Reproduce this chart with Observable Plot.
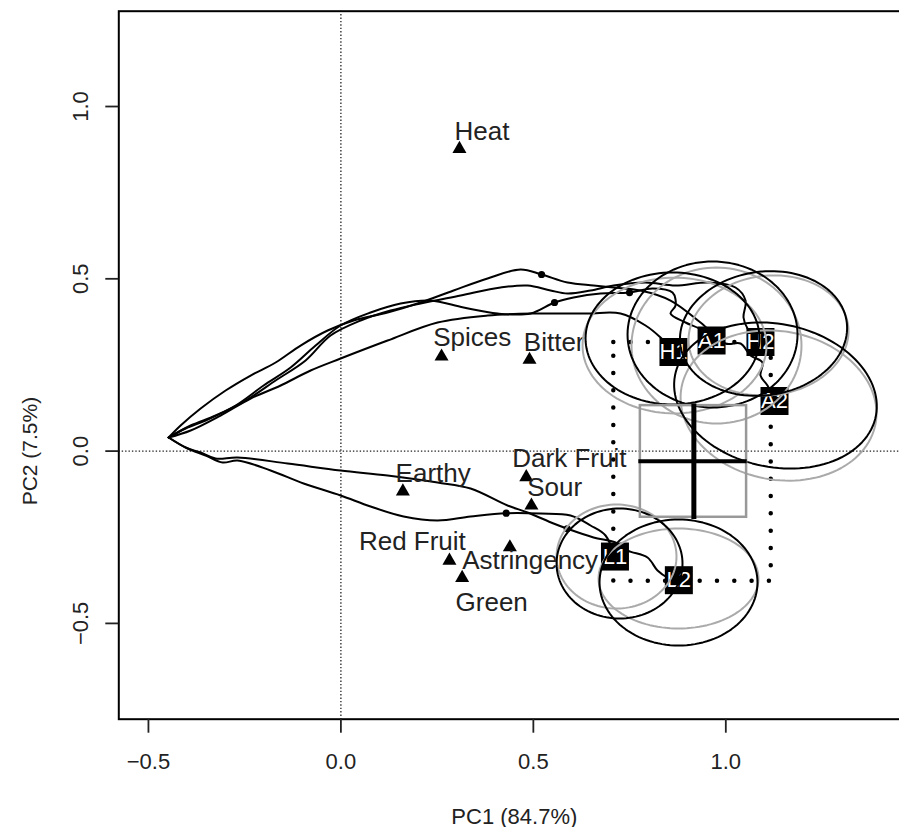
<!DOCTYPE html>
<html><head><meta charset="utf-8">
<script src="https://cdn.jsdelivr.net/npm/d3@7"></script>
<script src="https://cdn.jsdelivr.net/npm/@observablehq/plot@0.6"></script>
<style>html,body{margin:0;padding:0;background:#fff;overflow:hidden} svg{display:block}</style>
</head><body><div id="chart"></div>
<script>
// ---- axis ticks ----
const xTicks = [-0.5, 0, 0.5, 1.0];
const yTicks = [-0.5, 0, 0.5, 1.0];
const xTitle = "PC1 (84.7%)";
const yTitle = "PC2 (7.5%)";

// ---- attribute loadings (triangles) ----
const attributes   = ["Heat","Spices","Bitter","Earthy","Dark Fruit","Sour","Red Fruit","Astringency","Green"];
const attrPC1      = [0.308, 0.2615, 0.490, 0.161, 0.4816, 0.495, 0.282, 0.439, 0.315];
const attrPC2      = [0.877, 0.2745, 0.265, -0.117, -0.0757, -0.158, -0.318, -0.279, -0.368];
const attrLabelPC1 = [0.2953, 0.240, 0.4753, 0.1421, 0.4452, 0.4842, 0.0468, 0.3153, 0.2979];
const attrLabelPC2 = [0.9034, 0.3064, 0.2919, -0.0902, -0.0467, -0.1317, -0.2884, -0.3407, -0.4626];

// ---- samples (boxed labels) ----
const samples   = ["H1","A1","H2","A2","L1","L2"];
const samplePC1 = [0.864, 0.963, 1.090, 1.1265, 0.712, 0.878];
const samplePC2 = [0.2876, 0.321, 0.3166, 0.1454, -0.306, -0.3746];

// ---- trajectories from common origin to each sample ----
const trajA2 = [[-0.4475,0.0395],[-0.4164,0.0743],[-0.3644,0.1236],[-0.2995,0.1759],[-0.2345,0.2194],[-0.1696,0.2571],[-0.1047,0.3064],[-0.0345,0.35],[0.033,0.379],[0.1213,0.4022],[0.207,0.4312],[0.2927,0.4661],[0.381,0.5008],[0.4668,0.527],[0.5213,0.5125],[0.5888,0.4893],[0.6564,0.4806],[0.7083,0.4748],[0.7784,0.4661],[0.8564,0.437],[0.9343,0.3732],[0.9992,0.3122],[1.0382,0.3122],[1.0642,0.2774],[1.0953,0.2571],[1.0901,0.2194],[1.1083,0.1904],[1.1265,0.1468]];
const trajA1 = [[-0.4475,0.0395],[-0.4034,0.0656],[-0.3514,0.0888],[-0.2735,0.1323],[-0.2008,0.1904],[-0.1306,0.2426],[-0.0657,0.3064],[-0.0008,0.3645],[0.0771,0.4022],[0.1551,0.4283],[0.233,0.437],[0.3187,0.4167],[0.407,0.3993],[0.4927,0.3993],[0.5551,0.4312],[0.6044,0.4457],[0.6745,0.4573],[0.7499,0.4602],[0.8096,0.4719],[0.8616,0.4602],[0.8694,0.4225],[0.8564,0.3993],[0.8953,0.3732],[0.9395,0.35],[0.9629,0.3209]];
const trajH2 = [[-0.4475,0.0395],[-0.3904,0.0743],[-0.3255,0.1033],[-0.2475,0.1468],[-0.1696,0.2049],[-0.0917,0.2629],[-0.0268,0.3355],[0.0512,0.379],[0.1291,0.408],[0.207,0.4283],[0.3109,0.4515],[0.4148,0.4748],[0.4849,0.4806],[0.5447,0.4661],[0.5888,0.4573],[0.6486,0.4661],[0.7083,0.4806],[0.7914,0.4893],[0.8694,0.4806],[0.9551,0.4893],[1.0252,0.4748],[1.0512,0.437],[1.046,0.3877],[1.0564,0.3558],[1.0901,0.318]];
const trajH1 = [[-0.4475,0.0395],[-0.3904,0.0598],[-0.3125,0.1033],[-0.2345,0.1526],[-0.1566,0.1904],[-0.0787,0.2339],[-0.0008,0.2687],[0.1213,0.3209],[0.2512,0.3732],[0.381,0.3935],[0.5109,0.3993],[0.6408,0.3993],[0.7265,0.3993],[0.7914,0.3645],[0.8304,0.3297],[0.8642,0.289]];
const trajL2 = [[-0.4475,0.0395],[-0.4034,0.0104],[-0.3644,-0.0041],[-0.3255,-0.0215],[-0.2683,-0.0186],[-0.1384,-0.036],[-0.0008,-0.0563],[0.1213,-0.0708],[0.2512,-0.0911],[0.3369,-0.1085],[0.433,-0.1579],[0.4849,-0.1782],[0.5525,-0.2101],[0.5888,-0.2255],[0.6564,-0.2507],[0.7135,-0.2652],[0.7447,-0.2885],[0.7966,-0.3088],[0.8226,-0.3465],[0.8486,-0.3668],[0.8771,-0.3755]];
const trajL1 = [[-0.4475,0.0395],[-0.3982,0.0075],[-0.3514,-0.0128],[-0.3073,-0.0331],[-0.2683,-0.0273],[-0.1826,-0.0563],[-0.0969,-0.094],[-0.0008,-0.1288],[0.0771,-0.1608],[0.1629,-0.1898],[0.2512,-0.2014],[0.3369,-0.1898],[0.4296,-0.1802],[0.5187,-0.1811],[0.5966,-0.1869],[0.6486,-0.2159],[0.6875,-0.2449],[0.7109,-0.3059]];
const trajNames = ["A2","A1","H2","H1","L2","L1"];
const trajList  = [trajA2, trajA1, trajH2, trajH1, trajL2, trajL1];

// intermediate markers on trajectories
const markPC1 = [0.5213, 0.555, 0.7499, 0.4296, 0.588];
const markPC2 = [0.5125, 0.4312, 0.4602, -0.1802, -0.2255];

// ---- confidence ellipses (centre, semi-axes, angle in degrees) ----
const ellSample = ["H1","H1","A1","A1","H2","H2","A2","A2","L1","L1","L2","L2"];
const ellTone   = ["black","grey","black","grey","black","grey","black","grey","black","grey","black","grey"];
const ellCX     = [0.8616, 0.8668, 0.9655, 0.9758, 1.098, 1.111, 1.129, 1.137, 0.7239, 0.7161, 0.8771, 0.8771];
const ellCY     = [0.3268, 0.3064, 0.3384, 0.3064, 0.3413, 0.3355, 0.1613, 0.1323, -0.3262, -0.3059, -0.3813, -0.3697];
const ellA      = [0.226, 0.239, 0.2208, 0.2208, 0.219, 0.209, 0.268, 0.258, 0.1636, 0.1558, 0.2052, 0.2078];
const ellB      = [0.1915, 0.197, 0.2118, 0.2263, 0.1787, 0.173, 0.206, 0.214, 0.1596, 0.1509, 0.1828, 0.145];
const ellAngle  = [0, 0, 0, 0, 13, 11, -17, -17, 0, 0, 0, 0];

// ---- range rectangle (dotted), grey box and cross ----
const rangePC1 = [0.709, 1.118];
const rangePC2 = [-0.3775, 0.315];
const boxPC1   = [0.778, 1.054];
const boxPC2   = [-0.192, 0.132];
const crossPC1 = [0.774, 0.917, 1.0556];
const crossPC2 = [-0.1985, -0.0293, 0.137];

// ---- build tables ----
const attrRows = attributes.map((name, i) => ({name, x: attrPC1[i], y: attrPC2[i], lx: attrLabelPC1[i], ly: attrLabelPC2[i]}));
const sampleRows = samples.map((name, i) => ({name, x: samplePC1[i], y: samplePC2[i]}));
const trajRows = trajList.flatMap((pts, i) => pts.map(([x, y]) => ({id: trajNames[i], x, y})));
const markRows = markPC1.map((x, i) => ({x, y: markPC2[i]}));
const ellRows = [];
ellCX.forEach((cx, i) => {
  const th = ellAngle[i] * Math.PI / 180;
  for (let k = 0; k <= 120; k++) {
    const t = 2 * Math.PI * k / 120;
    ellRows.push({
      id: i, tone: ellTone[i],
      x: cx + ellA[i] * Math.cos(t) * Math.cos(th) - ellB[i] * Math.sin(t) * Math.sin(th),
      y: ellCY[i] + ellA[i] * Math.cos(t) * Math.sin(th) + ellB[i] * Math.sin(t) * Math.cos(th)
    });
  }
});

const fmt = d3.format(".1f");
const font = "Liberation Sans, Arial, Helvetica, sans-serif";

const chart = Plot.plot({
  width: 899, height: 827,
  marginLeft: 118.3, marginRight: -10.3, marginTop: 10.7, marginBottom: 108.3,
  x: {domain: [-0.577, 1.478]},
  y: {domain: [-0.778, 1.2766]},
  style: {fontFamily: font, background: "white", color: "#222"},
  marks: [
    Plot.ruleX([0], {stroke: "#222", strokeWidth: 1.3, strokeDasharray: "1.4 2"}),
    Plot.ruleY([0], {stroke: "#222", strokeWidth: 1.3, strokeDasharray: "1.4 2"}),
    Plot.line(trajRows, {x: "x", y: "y", z: "id", stroke: "black", strokeWidth: 2, curve: "catmull-rom"}),
    Plot.dot(markRows, {x: "x", y: "y", r: 3.6, fill: "black", stroke: "none"}),
    Plot.dot(attrRows, {x: "x", y: "y", symbol: "triangle", r: 5.2, fill: "black", stroke: "none"}),
    Plot.text(attrRows, {x: "lx", y: "ly", text: "name", textAnchor: "start", lineAnchor: "bottom", fontSize: 26, fill: "#222"}),
    Plot.rect([{x1: rangePC1[0], x2: rangePC1[1], y1: rangePC2[0], y2: rangePC2[1]}],
      {x1: "x1", x2: "x2", y1: "y1", y2: "y2", fill: "none", stroke: "black", strokeWidth: 4.5, strokeDasharray: "0 17.3", strokeLinecap: "round"}),
    Plot.dot(sampleRows, {x: "x", y: "y", symbol: "square", r: 15.8, fill: "black", stroke: "none"}),
    Plot.text(sampleRows, {x: "x", y: "y", text: "name", fill: "white", fontSize: 22, textAnchor: "middle", lineAnchor: "middle"}),
    Plot.line(ellRows.filter(d => d.tone === "grey"), {x: "x", y: "y", z: "id", stroke: "#aaa", strokeWidth: 2}),
    Plot.line(ellRows.filter(d => d.tone === "black"), {x: "x", y: "y", z: "id", stroke: "black", strokeWidth: 2}),
    Plot.rect([{x1: boxPC1[0], x2: boxPC1[1], y1: boxPC2[0], y2: boxPC2[1]}],
      {x1: "x1", x2: "x2", y1: "y1", y2: "y2", fill: "none", stroke: "#999", strokeWidth: 2.5}),
    Plot.ruleX([{x: crossPC1[1], y1: crossPC2[0], y2: crossPC2[2]}], {x: "x", y1: "y1", y2: "y2", stroke: "black", strokeWidth: 5}),
    Plot.ruleY([{y: crossPC2[1], x1: crossPC1[0], x2: crossPC1[2]}], {y: "y", x1: "x1", x2: "x2", stroke: "black", strokeWidth: 4}),
    Plot.frame({stroke: "black", strokeWidth: 2}),
    Plot.axisX({ticks: xTicks, tickSize: 14, tickPadding: 20, tickFormat: fmt, fontSize: 22, label: null, strokeWidth: 1.8}),
    Plot.axisY({ticks: yTicks, tickSize: 13, tickPadding: 18, tickRotate: -90, tickFormat: fmt, fontSize: 22, label: null, strokeWidth: 1.8}),
    Plot.text([xTitle], {frameAnchor: "bottom", dy: 104.3, lineAnchor: "bottom", textAnchor: "middle", fontSize: 22, fill: "#222"}),
    Plot.text([yTitle], {frameAnchor: "left", y: [0], dx: -82, rotate: -90, lineAnchor: "bottom", textAnchor: "middle", fontSize: 21, fill: "#222"})
  ]
});
document.getElementById("chart").append(chart);
</script>
</body></html>
